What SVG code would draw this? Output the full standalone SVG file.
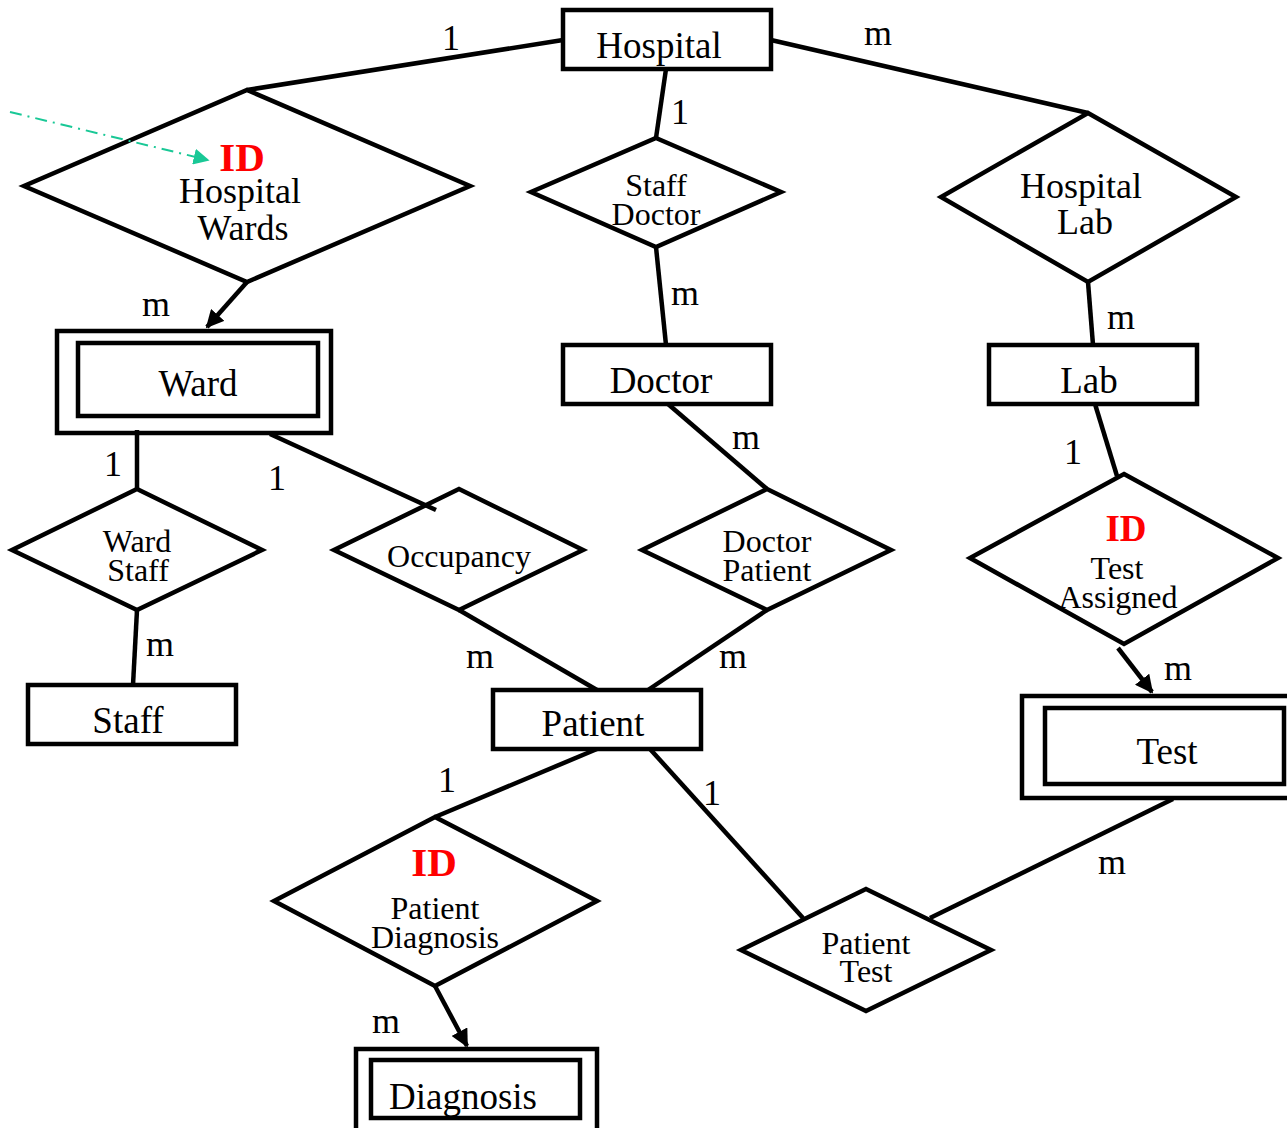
<svg xmlns="http://www.w3.org/2000/svg" width="1287" height="1128" viewBox="0 0 1287 1128">
  <style>
    .shape { fill: #ffffff; stroke: #000000; stroke-width: 4.5; stroke-linejoin: miter; }
    .conn { fill: none; stroke: #000000; stroke-width: 4.5; }
    .t { font-family: "Liberation Serif", "Times New Roman", serif; fill: #000000; text-anchor: middle; }
    .box { font-size: 37px; }
    .rel { font-size: 32px; }
    .relL { font-size: 36px; }
    .card { font-size: 36px; }
    .id { font-family: "Liberation Serif", "Times New Roman", serif; font-weight: bold; fill: #ff0000; text-anchor: middle; }
  </style>
  <defs>
    <marker id="arrow" viewBox="0 0 10 10" refX="9" refY="5" markerWidth="4" markerHeight="4" orient="auto" markerUnits="strokeWidth">
      <path d="M0,0 L10,5 L0,10 z" fill="#000000"/>
    </marker>
    <marker id="arrowGreen" viewBox="0 0 10 10" refX="9" refY="5" markerWidth="8" markerHeight="8" orient="auto" markerUnits="strokeWidth">
      <path d="M0,0 L10,5 L0,10 z" fill="#19c896"/>
    </marker>
  </defs>
  <rect width="1287" height="1128" fill="#ffffff"/>

  <!-- entities -->
  <g id="hospital">
    <rect class="shape" x="563" y="10" width="208" height="59"/>
    <text class="t box" x="659" y="58">Hospital</text>
  </g>
  <g id="doctor">
    <rect class="shape" x="563" y="345" width="208" height="59"/>
    <text class="t box" x="661" y="393">Doctor</text>
  </g>
  <g id="lab">
    <rect class="shape" x="989" y="345" width="208" height="59"/>
    <text class="t box" x="1089" y="393">Lab</text>
  </g>
  <g id="ward">
    <rect class="shape" x="57" y="331" width="274" height="102"/>
    <rect class="shape" x="78" y="343" width="240" height="73"/>
    <text class="t box" x="198" y="396">Ward</text>
  </g>
  <g id="staff">
    <rect class="shape" x="28" y="685" width="208" height="59"/>
    <text class="t box" x="128" y="733">Staff</text>
  </g>
  <g id="patient">
    <rect class="shape" x="493" y="690" width="208" height="59"/>
    <text class="t box" x="593" y="736">Patient</text>
  </g>
  <g id="test">
    <rect class="shape" x="1022" y="696" width="270" height="102"/>
    <rect class="shape" x="1045" y="708" width="239" height="76"/>
    <text class="t box" x="1167" y="764">Test</text>
  </g>
  <g id="diagnosis">
    <rect class="shape" x="356" y="1049" width="241" height="84"/>
    <rect class="shape" x="371" y="1060" width="209" height="58"/>
    <text class="t box" x="463" y="1109">Diagnosis</text>
  </g>

  <!-- relationships -->
  <g id="hospital-wards">
    <polygon class="shape" points="247,90 470,186 247,282 24,186"/>
    <text class="id" font-size="41" x="242" y="171">ID</text>
    <text class="t relL" x="240" y="203">Hospital</text>
    <text class="t relL" x="243" y="240">Wards</text>
  </g>
  <g id="staff-doctor">
    <polygon class="shape" points="656,138 781,192 656,247 531,192"/>
    <text class="t rel" x="656" y="196">Staff</text>
    <text class="t rel" x="656" y="225">Doctor</text>
  </g>
  <g id="hospital-lab">
    <polygon class="shape" points="1088,113 1236,197 1088,282 941,197"/>
    <text class="t relL" x="1081" y="198">Hospital</text>
    <text class="t relL" x="1085" y="234">Lab</text>
  </g>
  <g id="ward-staff">
    <polygon class="shape" points="137,489 262,550 137,610 12,550"/>
    <text class="t rel" x="137" y="552">Ward</text>
    <text class="t rel" x="138" y="581">Staff</text>
  </g>
  <g id="occupancy">
    <polygon class="shape" points="459,489 583,550 459,610 334,550"/>
    <text class="t rel" x="459" y="567">Occupancy</text>
  </g>
  <g id="doctor-patient">
    <polygon class="shape" points="767,489 891,550 767,610 642,550"/>
    <text class="t rel" x="767" y="552">Doctor</text>
    <text class="t rel" x="767" y="581">Patient</text>
  </g>
  <g id="test-assigned">
    <polygon class="shape" points="1124,474 1278,558 1124,644 970,558"/>
    <text class="id" font-size="37" x="1126" y="541">ID</text>
    <text class="t rel" x="1117" y="579">Test</text>
    <text class="t rel" x="1118" y="608">Assigned</text>
  </g>
  <g id="patient-diagnosis">
    <polygon class="shape" points="435,817 597,901 435,986 274,901"/>
    <text class="id" font-size="41" x="434" y="876">ID</text>
    <text class="t rel" x="435" y="919">Patient</text>
    <text class="t rel" x="435" y="948">Diagnosis</text>
  </g>
  <g id="patient-test">
    <polygon class="shape" points="866,889 991,950 866,1011 741,950"/>
    <text class="t rel" x="866" y="954">Patient</text>
    <text class="t rel" x="866" y="982">Test</text>
  </g>

  <!-- relationship lines, drawn over the shapes -->
  <g id="connectors">
    <line class="conn" x1="563" y1="40" x2="247" y2="90"/>
    <line class="conn" x1="666" y1="69" x2="656" y2="138"/>
    <line class="conn" x1="656" y1="247" x2="666" y2="345"/>
    <line class="conn" x1="771" y1="40" x2="1088" y2="113"/>
    <line class="conn" x1="1088" y1="282" x2="1093" y2="345"/>
    <line class="conn" x1="1095" y1="404" x2="1117" y2="476"/>
    <line class="conn" x1="1118" y1="648" x2="1152" y2="692" marker-end="url(#arrow)"/>
    <line class="conn" x1="1173" y1="799" x2="930" y2="918"/>
    <line class="conn" x1="650" y1="749" x2="803" y2="918"/>
    <line class="conn" x1="597" y1="749" x2="435" y2="817"/>
    <line class="conn" x1="435" y1="986" x2="467" y2="1046" marker-end="url(#arrow)"/>
    <line class="conn" x1="247" y1="282" x2="207" y2="327" marker-end="url(#arrow)"/>
    <line class="conn" x1="137" y1="430" x2="137" y2="489"/>
    <line class="conn" x1="137" y1="610" x2="133" y2="685"/>
    <line class="conn" x1="270" y1="434" x2="436" y2="510"/>
    <line class="conn" x1="459" y1="610" x2="597" y2="690"/>
    <line class="conn" x1="668" y1="404" x2="767" y2="489"/>
    <line class="conn" x1="767" y1="610" x2="648" y2="690"/>
    <line x1="10" y1="112" x2="208" y2="160" stroke="#19c896" stroke-width="2" stroke-dasharray="12 6 2 6" marker-end="url(#arrowGreen)"/>
  </g>

  <!-- cardinalities -->
  <g id="cardinalities">
    <text class="t card" x="451" y="50">1</text>
    <text class="t card" x="878" y="45">m</text>
    <text class="t card" x="680" y="124">1</text>
    <text class="t card" x="685" y="305">m</text>
    <text class="t card" x="156" y="316">m</text>
    <text class="t card" x="1121" y="329">m</text>
    <text class="t card" x="746" y="449">m</text>
    <text class="t card" x="113" y="476">1</text>
    <text class="t card" x="277" y="490">1</text>
    <text class="t card" x="1073" y="464">1</text>
    <text class="t card" x="160" y="656">m</text>
    <text class="t card" x="480" y="668">m</text>
    <text class="t card" x="733" y="668">m</text>
    <text class="t card" x="1178" y="680">m</text>
    <text class="t card" x="447" y="792">1</text>
    <text class="t card" x="712" y="805">1</text>
    <text class="t card" x="1112" y="874">m</text>
    <text class="t card" x="386" y="1033">m</text>
  </g>
</svg>
